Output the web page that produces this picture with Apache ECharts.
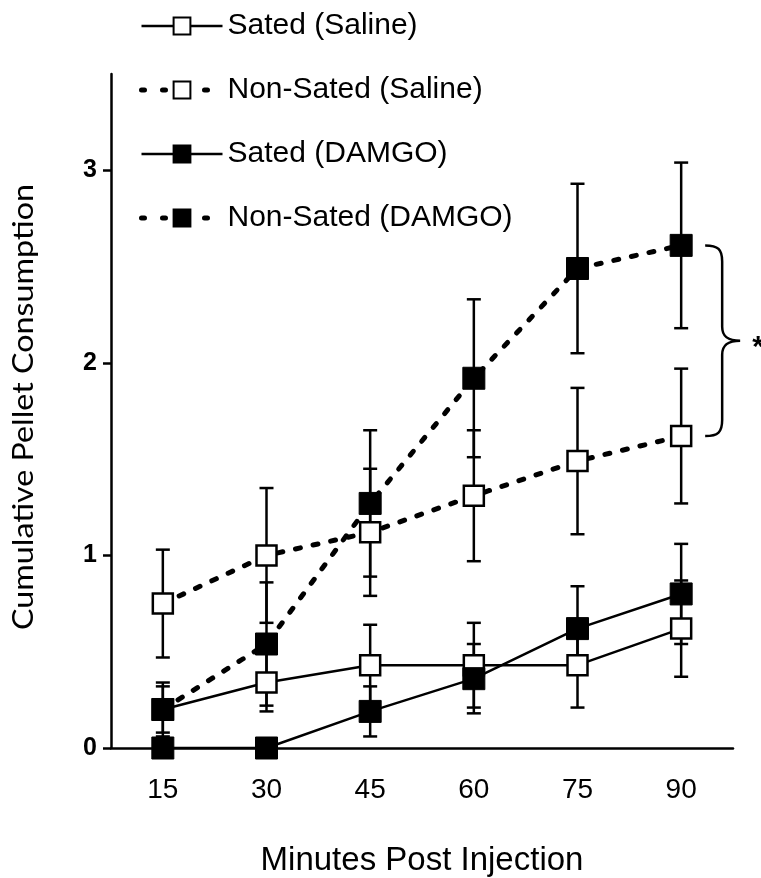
<!DOCTYPE html>
<html>
<head>
<meta charset="utf-8">
<script src="https://cdn.jsdelivr.net/npm/echarts@6/dist/echarts.min.js"></script>
<style>
  html, body { margin: 0; padding: 0; background: #fff; }
  #chart { width: 761px; height: 878px; }
</style>
</head>
<body>
<div id="chart"></div>
<script>
// Time points (minutes after injection)
const minutes = ['15', '30', '45', '60', '75', '90'];

// Mean cumulative pellets and SEM per group
const satedSaline       = [0.20, 0.34, 0.43, 0.43, 0.43, 0.62];
const satedSalineErr    = [0.12, 0.15, 0.21, 0.22, 0.22, 0.25];
const nonSatedSaline    = [0.75, 1.00, 1.12, 1.31, 1.49, 1.62];
const nonSatedSalineErr = [0.28, 0.35, 0.33, 0.34, 0.38, 0.35];
const satedDamgo        = [0.00, 0.00, 0.19, 0.36, 0.62, 0.80];
const satedDamgoErr     = [0.00, 0.00, 0.13, 0.18, 0.22, 0.26];
const nonSatedDamgo     = [0.20, 0.54, 1.27, 1.92, 2.49, 2.61];
const nonSatedDamgoErr  = [0.14, 0.32, 0.38, 0.41, 0.44, 0.43];

const groupNames = ['Sated (Saline)', 'Non-Sated (Saline)', 'Sated (DAMGO)', 'Non-Sated (DAMGO)'];
const yTicks = [0, 1, 2, 3];

const FONT = '"Liberation Sans", Arial, sans-serif';
const chart = echarts.init(document.getElementById('chart'), null, { renderer: 'canvas' });

// Vertical SEM whiskers with caps
function errorSeries(values, errs) {
  return {
    type: 'custom',
    z: 1,
    silent: true,
    animation: false,
    encode: { x: 0, y: 1 },
    data: values.map((v, i) => [i, v, errs[i]]),
    renderItem(params, api) {
      const x = api.value(0), v = api.value(1), e = api.value(2);
      if (!e) return null;
      const top = api.coord([x, v + e]);
      const bot = api.coord([x, v - e]);
      const hw = 7;
      const style = { stroke: '#000', lineWidth: 2.5 };
      return {
        type: 'group',
        children: [
          { type: 'line', shape: { x1: top[0], y1: top[1], x2: bot[0], y2: bot[1] }, style },
          { type: 'line', shape: { x1: top[0] - hw, y1: top[1], x2: top[0] + hw, y2: top[1] }, style },
          { type: 'line', shape: { x1: bot[0] - hw, y1: bot[1], x2: bot[0] + hw, y2: bot[1] }, style }
        ]
      };
    }
  };
}

function lineSeries(name, values, filled, dotted) {
  return {
    type: 'line',
    name,
    data: values,
    z: 3,
    symbol: 'rect',
    symbolSize: filled ? 22 : 20,
    lineStyle: dotted
      ? { color: '#000', width: 5, type: [5, 13], cap: 'round' }
      : { color: '#000', width: 2.5 },
    itemStyle: filled
      ? { color: '#000', borderColor: '#000', borderWidth: 1 }
      : { color: '#fff', borderColor: '#000', borderWidth: 2.5 },
    emphasis: { disabled: true },
    animation: false
  };
}

// Curly brace joining the two non-sated groups at the last time point, with significance star
const braceSeries = {
  type: 'custom',
  z: 2,
  silent: true,
  animation: false,
  data: [[5, nonSatedDamgo[5], nonSatedSaline[5]]],
  renderItem(params, api) {
    const top = api.coord([api.value(0), api.value(1)]);
    const bot = api.coord([api.value(0), api.value(2)]);
    const x0 = top[0] + 24, x1 = top[0] + 41, x2 = top[0] + 59;
    const yT = top[1], yB = bot[1], yM = (yT + yB) / 2;
    const d = [
      'M', x0, yT,
      'C', x1 - 4, yT, x1, yT + 4, x1, yT + 16,
      'L', x1, yM - 14,
      'C', x1, yM - 4, x1 + 6, yM, x2, yM,
      'C', x1 + 6, yM, x1, yM + 4, x1, yM + 14,
      'L', x1, yB - 16,
      'C', x1, yB - 4, x1 - 4, yB, x0, yB
    ].join(' ');
    return {
      type: 'group',
      children: [
        { type: 'path', shape: { pathData: d }, style: { stroke: '#000', lineWidth: 2.5, fill: null } },
        { type: 'text', x: x2 + 12, y: yM + 7,
          style: { text: '*', font: 'bold 30px ' + FONT, fill: '#000', align: 'left', verticalAlign: 'middle' } }
      ]
    };
  }
};

// Stretch the vertical axis title to span the value axis
const yTitle = 'Cumulative Pellet Consumption';
const yTitleFont = '28px Lato, "Open Sans", sans-serif';
const measureCtx = document.createElement('canvas').getContext('2d');
measureCtx.font = yTitleFont;
const yTitleScale = 446 / measureCtx.measureText(yTitle).width;

// Legend keys: dotted groups show a dot on each side of the marker
const legendDotted = { width: 5, type: [3, 18], cap: 'round', color: '#000' };
const legendSolid = { width: 2.5, type: 'solid', color: '#000' };

chart.setOption({
  backgroundColor: '#fff',
  animation: false,
  grid: { left: 111, right: 28, top: 74, bottom: 130, containLabel: false, outerBoundsMode: 'none' },
  legend: {
    orient: 'vertical',
    left: 139,
    top: 11,
    padding: 0,
    itemWidth: 81,
    itemHeight: 21,
    itemGap: 34,
    selectedMode: false,
    data: groupNames.map((name, i) => ({
      name,
      lineStyle: i % 2 === 1 ? legendDotted : legendSolid
    })),
    textStyle: { fontSize: 30, color: '#000', fontFamily: FONT }
  },
  xAxis: {
    type: 'category',
    data: minutes,
    boundaryGap: true,
    axisLine: { lineStyle: { color: '#000', width: 2.5 } },
    axisTick: { length: 10, lineStyle: { color: '#000', width: 2.5 } },
    axisLabel: { fontSize: 28, color: '#000', margin: 28, fontFamily: FONT },
    name: 'Minutes Post Injection',
    nameLocation: 'middle',
    nameGap: 96,
    nameTextStyle: { fontSize: 33, color: '#000', fontFamily: FONT }
  },
  yAxis: {
    type: 'value',
    min: 0,
    max: 3.5,
    interval: 1,
    axisLine: { show: true, lineStyle: { color: '#000', width: 2.5 } },
    axisTick: { show: true, inside: false, length: 8, customValues: yTicks, lineStyle: { color: '#000', width: 2.5 } },
    axisLabel: { customValues: yTicks, fontSize: 25, fontWeight: 'bold', color: '#000', margin: 14, fontFamily: FONT },
    splitLine: { show: false }
  },
  graphic: [{
    type: 'text',
    x: 24,
    y: 407,
    rotation: Math.PI / 2,
    scaleX: yTitleScale,
    style: { text: yTitle, font: yTitleFont, fill: '#000', align: 'center', verticalAlign: 'middle' }
  }],
  series: [
    errorSeries(satedSaline, satedSalineErr),
    errorSeries(nonSatedSaline, nonSatedSalineErr),
    errorSeries(satedDamgo, satedDamgoErr),
    errorSeries(nonSatedDamgo, nonSatedDamgoErr),
    lineSeries(groupNames[0], satedSaline, false, false),
    lineSeries(groupNames[1], nonSatedSaline, false, true),
    lineSeries(groupNames[2], satedDamgo, true, false),
    lineSeries(groupNames[3], nonSatedDamgo, true, true),
    braceSeries
  ]
});
</script>
</body>
</html>
